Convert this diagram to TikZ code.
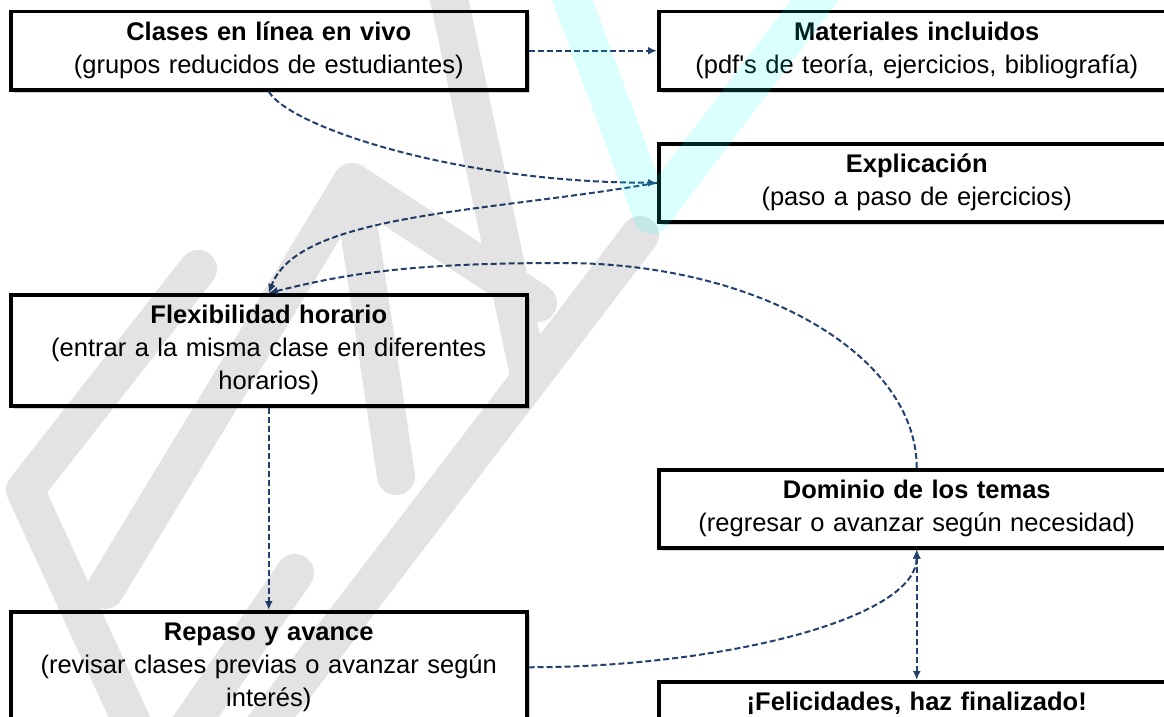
\documentclass[tikz,border=0pt]{standalone}
\usepackage{fontspec}
\setmainfont{Liberation Sans}[WordSpace=1.6, Ligatures=TeXOff]
\usetikzlibrary{arrows.meta,shadows}
\definecolor{azul}{HTML}{23416F}
\definecolor{marca}{HTML}{00FFFF}

\begin{document}
\begin{tikzpicture}[x=1pt, y=1pt,
    tema/.style={draw=black, line width=3.5pt, fill=white, anchor=north west,
      minimum width=516pt, text width=490pt, align=center, inner ysep=6pt,
      font=\fontsize{25.5}{33}\selectfont,
      execute at begin node=\strut, execute at end node=\strut,
      drop shadow={shadow xshift=3pt, shadow yshift=-3pt, fill=black!35}},
    enlace/.style={draw=azul, line width=2pt, dash pattern=on 6pt off 3pt,
      -{Latex[length=9pt,width=8pt]}},
    trazo/.style={line width=38pt, line cap=round, line join=round}]
      \useasboundingbox (0,0) rectangle (1164,-717);
      \node[tema] (clases) at (9,-10) {\textbf{Clases en línea en vivo}\\(grupos reducidos de estudiantes)};
      \node[tema] (materiales) at (657,-10) {\textbf{Materiales incluidos}\\(pdf's de teoría, ejercicios, bibliografía)};
      \node[tema] (explicacion) at (657,-142) {\textbf{Explicación}\\(paso a paso de ejercicios)};
      \node[tema] (flexibilidad) at (9,-293) {\textbf{Flexibilidad horario}\\(entrar a la misma clase en diferentes\\horarios)};
      \node[tema] (dominio) at (657,-468) {\textbf{Dominio de los temas}\\(regresar o avanzar según necesidad)};
      \node[tema] (repaso) at (9,-610) {\textbf{Repaso y avance}\\(revisar clases previas o avanzar según\\interés)};
      \node[tema] (felicidades) at (657,-680) {\textbf{¡Felicidades, haz finalizado!}};
      \coordinate (cima) at (563,-263);
      \draw[enlace] (clases.east) -- (materiales.west);
      \draw[enlace] (clases.south) .. controls +(20,-35) and +(-200,0) .. (explicacion.west);
      \draw[enlace] (explicacion.west) .. controls +(-170,-30) and +(30,80) .. (flexibilidad.north);
      \draw[enlace] (dominio.north) .. controls +(0,113) and +(195,0) .. (cima)
        .. controls +(-150,0) and +(80,20) .. (flexibilidad.north);
      \draw[enlace] (flexibilidad.south) -- (repaso.north);
      \draw[enlace] (repaso.east) .. controls +(190,0) and +(0,-70) .. (dominio.south);
      \draw[enlace, {Latex[length=9pt,width=8pt]}-{Latex[length=9pt,width=8pt]}] (dominio.south) -- (felicidades.north);
      \begin{scope}[transparency group, opacity=0.11]
        \draw[trazo] (640,-235) -- (250,-745);
        \draw[trazo] (445,20) -- (528,-370);
        \draw[trazo] (352,-182) -- (538,-303);
        \draw[trazo] (352,-182) -- (396,-476);
        \draw[trazo] (352,-182) -- (105,-590);
        \draw[trazo] (198,-269) -- (25,-490) -- (140,-740);
        \draw[trazo] (295,-573) -- (180,-740);
      \end{scope}
      \begin{scope}[transparency group, opacity=0.14]
        \draw[trazo, marca] (565,20) -- (652,-215) -- (830,20);
      \end{scope}
    \end{tikzpicture}
\end{document}
